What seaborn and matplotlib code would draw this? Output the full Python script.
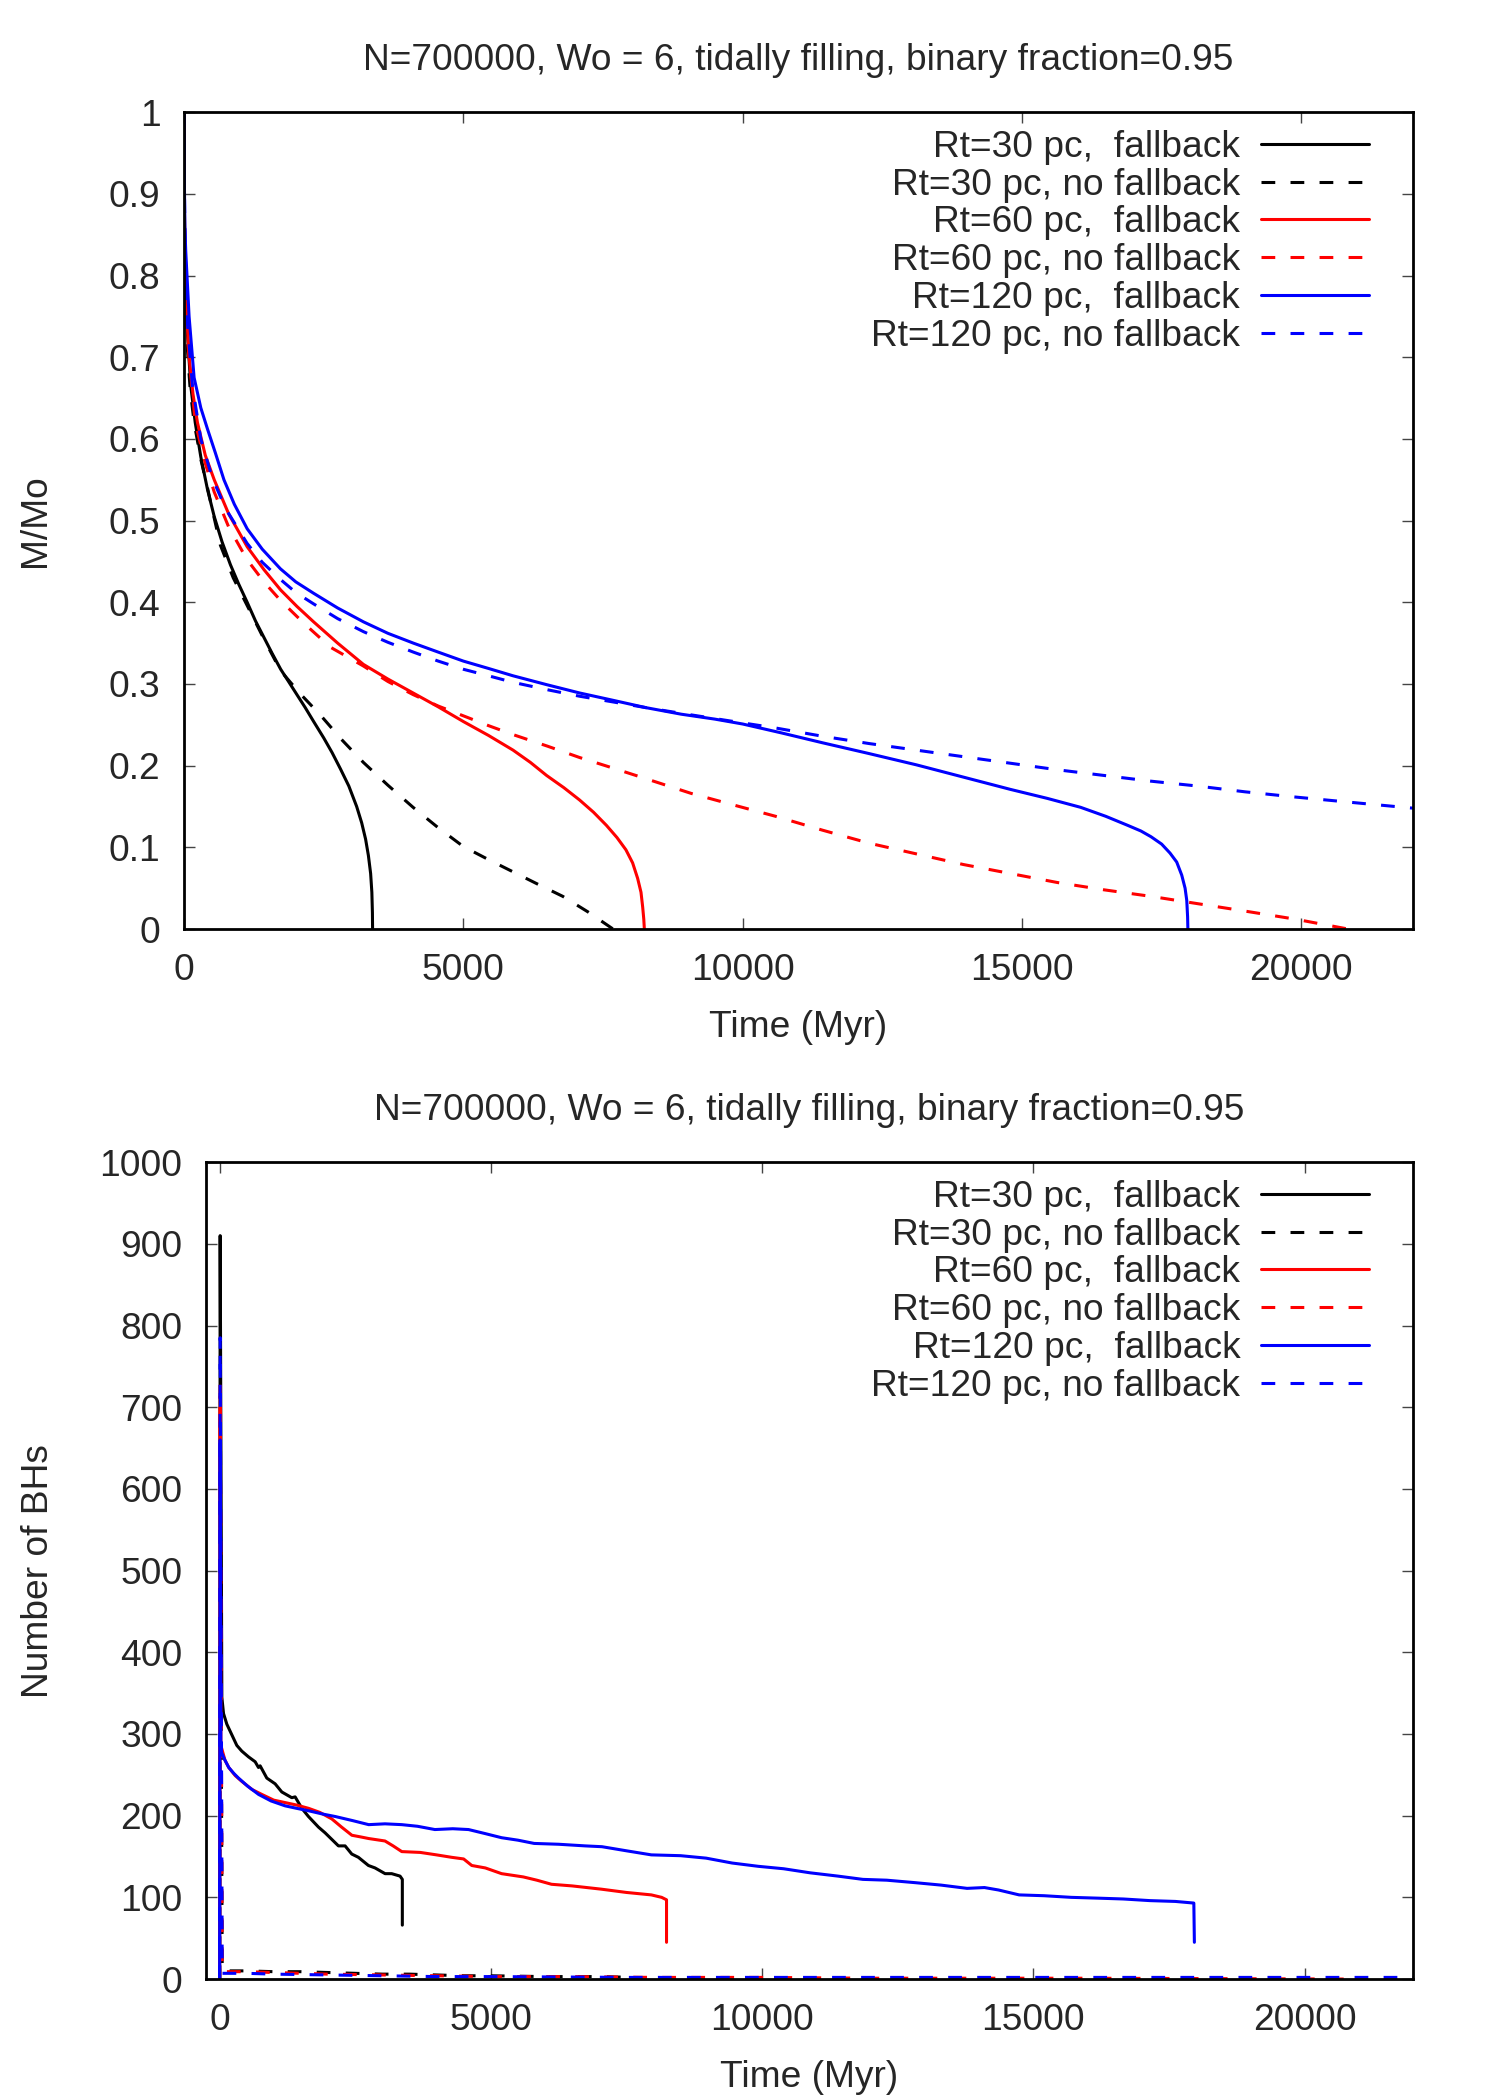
import matplotlib
matplotlib.use("Agg")
import matplotlib.pyplot as plt
from matplotlib.ticker import FuncFormatter, MultipleLocator
import seaborn as sns

title = "N=700000, Wo = 6, tidally filling, binary fraction=0.95"
labels = ["Rt=30 pc,  fallback", "Rt=30 pc, no fallback",
          "Rt=60 pc,  fallback", "Rt=60 pc, no fallback",
          "Rt=120 pc,  fallback", "Rt=120 pc, no fallback"]
colors = ["black", "black", "red", "red", "blue", "blue"]
dashed = [False, True, False, True, False, True]

# ---- top panel: M/Mo vs time (Myr) ----
t_m30f = [0, 5, 15, 50, 120, 200, 300, 420, 540, 680, 830, 980, 1130, 1280, 1430, 1580, 1730, 1880, 2020, 2170,
          2320, 2500, 2650, 2800, 2950, 3090, 3180, 3250, 3300, 3340, 3362, 3372, 3375]
m_m30f = [1.0, 0.9, 0.81, 0.74, 0.665, 0.62, 0.578, 0.538, 0.505, 0.474, 0.446, 0.422, 0.4, 0.377, 0.357, 0.337,
          0.318, 0.302, 0.287, 0.271, 0.254, 0.234, 0.216, 0.196, 0.175, 0.15, 0.13, 0.11, 0.09, 0.068, 0.045, 0.02, 0.0]
t_m30n = [0, 5, 15, 50, 110, 180, 300, 420, 540, 650, 880, 1130, 1430, 1730, 2080, 2440, 2820, 3210, 3650, 4100,
          4550, 5000, 5450, 5890, 6330, 6780, 7230, 7680]
m_m30n = [1.0, 0.9, 0.8, 0.72, 0.66, 0.62, 0.575, 0.54, 0.503, 0.47, 0.43, 0.396, 0.355, 0.316, 0.288, 0.262,
          0.232, 0.204, 0.176, 0.149, 0.124, 0.101, 0.085, 0.07, 0.055, 0.04, 0.021, 0.0]
t_m60f = [0, 5, 15, 50, 90, 160, 240, 380, 540, 800, 1130, 1430, 1730, 2020, 2320, 2750, 3210, 3650, 4100, 4550,
          5000, 5450, 5890, 6200, 6490, 6800, 7080, 7330, 7560, 7750, 7910, 8030, 8120, 8180, 8210, 8230, 8240]
m_m60f = [1.0, 0.9, 0.82, 0.75, 0.70, 0.655, 0.62, 0.58, 0.55, 0.508, 0.468, 0.44, 0.415, 0.395, 0.376, 0.35,
          0.324, 0.306, 0.289, 0.272, 0.254, 0.237, 0.219, 0.204, 0.188, 0.173, 0.158, 0.143, 0.127, 0.112, 0.097,
          0.081, 0.062, 0.045, 0.027, 0.012, 0.0]
t_m60n = [0, 5, 15, 50, 200, 380, 540, 800, 1130, 1430, 1730, 2150, 2620, 3210, 3650, 4100, 4550, 5000, 5450, 5890,
          6500, 7080, 7680, 8270, 9080, 9830, 10590, 11430, 12270, 13110, 13950, 14790, 15630, 16470, 17310, 18150,
          18990, 19900, 20840]
m_m60n = [1.0, 0.9, 0.8, 0.73, 0.62, 0.57, 0.535, 0.492, 0.452, 0.425, 0.402, 0.374, 0.345, 0.322, 0.303, 0.287,
          0.273, 0.261, 0.249, 0.238, 0.224, 0.21, 0.197, 0.184, 0.166, 0.152, 0.138, 0.121, 0.105, 0.092, 0.079,
          0.068, 0.057, 0.048, 0.04, 0.031, 0.022, 0.012, 0.0]
t_m120f = [0, 5, 15, 30, 90, 180, 300, 420, 560, 714, 900, 1130, 1400, 1725, 2000, 2320, 2750, 3213, 3650, 4105,
           4550, 5000, 5450, 5890, 6500, 7080, 7680, 8270, 8900, 9500, 10000, 10700, 11430, 12250, 13110, 13950,
           14790, 15450, 16050, 16500, 16890, 17130, 17310, 17500, 17650, 17770, 17860, 17920, 17950, 17965, 17970]
m_m120f = [1.0, 0.92, 0.86, 0.83, 0.75, 0.675, 0.638, 0.612, 0.583, 0.55, 0.52, 0.49, 0.465, 0.441, 0.425, 0.411,
           0.393, 0.376, 0.362, 0.35, 0.339, 0.328, 0.319, 0.31, 0.299, 0.289, 0.28, 0.271, 0.263, 0.257, 0.251, 0.24,
           0.228, 0.215, 0.201, 0.186, 0.171, 0.16, 0.149, 0.138, 0.127, 0.12, 0.113, 0.104, 0.093, 0.082, 0.066,
           0.05, 0.035, 0.015, 0.0]
t_m120n = [0, 5, 15, 50, 150, 300, 500, 750, 1130, 1400, 1725, 2000, 2320, 2750, 3213, 3650, 4105, 4550, 5000, 5450,
           5890, 6500, 7080, 7680, 8270, 9000, 9750, 10600, 11430, 12270, 13110, 13950, 14790, 15630, 16470, 17310,
           18150, 18990, 19830, 20750, 21680, 22000]
m_m120n = [1.0, 0.92, 0.85, 0.75, 0.665, 0.6, 0.553, 0.514, 0.472, 0.449, 0.428, 0.412, 0.398, 0.38, 0.364, 0.351,
           0.339, 0.328, 0.318, 0.31, 0.302, 0.293, 0.285, 0.278, 0.271, 0.263, 0.255, 0.246, 0.236, 0.227, 0.219,
           0.211, 0.203, 0.195, 0.188, 0.181, 0.175, 0.168, 0.162, 0.156, 0.15, 0.148]

# ---- bottom panel: number of BHs vs time (Myr) ----
t_b30f = [0, 2, 12, 43, 74, 135, 227, 319, 411, 534, 657, 718, 749, 872, 1025, 1148, 1332, 1394, 1517, 1639, 1824,
          1946, 2100, 2192, 2315, 2438, 2560, 2745, 2867, 3052, 3174, 3328, 3370, 3370]
n_b30f = [0, 0, 910, 345, 325, 312, 299, 286, 279, 272, 266, 259, 261, 246, 239, 229, 222, 223, 209, 199, 186,
          179, 169, 163, 163, 153, 149, 139, 136, 129, 129, 126, 122, 66]
t_b30n = [0, 2, 12, 50, 500, 1000, 1500, 2000, 2500, 3000, 3500, 4000, 4500, 5000, 6000, 7000, 7650]
n_b30n = [0, 0, 640, 10, 10, 9, 9, 8, 7, 6, 6, 5, 4, 4, 3, 3, 2]
t_b60f = [0, 2, 12, 25, 100, 170, 290, 410, 600, 780, 1000, 1210, 1420, 1640, 1850, 2070, 2250, 2440, 2600, 2750,
          3050, 3200, 3360, 3700, 4000, 4280, 4500, 4650, 4900, 5200, 5600, 5850, 6120, 6500, 7040, 7500, 7960,
          8150, 8240, 8240]
n_b60f = [0, 0, 700, 286, 268, 259, 249, 242, 232, 226, 219, 216, 213, 209, 204, 196, 186, 176, 174, 172, 169,
          163, 156, 155, 152, 149, 147, 139, 136, 129, 125, 121, 116, 114, 110, 106, 103, 100, 97, 45]
t_b120f = [0, 2, 12, 25, 100, 170, 260, 350, 520, 720, 950, 1210, 1420, 1640, 1900, 2130, 2450, 2750, 3050, 3360,
           3650, 3970, 4300, 4590, 4900, 5200, 5500, 5800, 6250, 6740, 7050, 7500, 7960, 8500, 8970, 9450, 9930,
           10400, 10890, 11400, 11860, 12300, 12820, 13300, 13780, 14100, 14360, 14740, 15200, 15700, 16200, 16660,
           17150, 17620, 17960, 17970]
n_b120f = [0, 0, 660, 279, 268, 259, 252, 246, 236, 226, 218, 212, 209, 206, 202, 199, 194, 189, 190, 189, 187,
           183, 184, 183, 178, 173, 170, 166, 165, 163, 162, 157, 152, 151, 148, 142, 138, 135, 130, 126, 122, 121,
           118, 115, 111, 112, 109, 103, 102, 100, 99, 98, 96, 95, 93, 45]
t_b60n = [0, 2, 12, 50, 500, 1000, 1500, 2000, 3000, 4000, 5000, 6500, 8000, 10000, 12000, 16000, 20800]
n_b60n = [0, 0, 730, 9, 9, 8, 7, 6, 5, 4, 3, 3, 2, 2, 1, 1, 0]
t_b120n = [0, 2, 12, 50, 500, 1000, 2000, 3000, 4000, 5000, 7500, 10000, 15000, 22000]
n_b120n = [0, 0, 785, 7, 7, 6, 5, 4, 3, 3, 2, 2, 2, 2]

top_series = [(t_m30f, m_m30f), (t_m30n, m_m30n), (t_m60f, m_m60f),
              (t_m60n, m_m60n), (t_m120f, m_m120f), (t_m120n, m_m120n)]
bot_series = [(t_b30f, n_b30f), (t_b30n, n_b30n), (t_b60f, n_b60f),
              (t_b60n, n_b60n), (t_b120f, n_b120f), (t_b120n, n_b120n)]

sns.set_theme(style="ticks")
plt.rcParams["font.family"] = ["Liberation Sans", "DejaVu Sans"]
FS = 26.7


def draw_panel(ax, series, ylabel, xlim, ylim, ystep, ylabelpad, leg_x):
    for (t, v), lab, col, dsh in zip(series, labels, colors, dashed):
        ls = (0, (4.5, 5)) if dsh else "solid"
        sns.lineplot(x=t, y=v, ax=ax, color=col, linestyle=ls, linewidth=2.2,
                     estimator=None, sort=False, label=lab)
    ax.set_xlim(*xlim)
    ax.set_ylim(*ylim)
    ax.xaxis.set_major_locator(MultipleLocator(5000))
    ax.yaxis.set_major_locator(MultipleLocator(ystep))
    ax.yaxis.set_major_formatter(FuncFormatter(lambda v, p: "%g" % round(v, 3)))
    ax.tick_params(direction="in", length=8, width=1, color="#444444",
                   top=True, right=True, pad=17, labelsize=FS)
    for sp in ax.spines.values():
        sp.set_linewidth(2.0)
        sp.set_color("black")
    ax.set_title(title, fontsize=FS, pad=30)
    ax.set_xlabel("Time (Myr)", fontsize=FS, labelpad=16)
    ax.set_ylabel(ylabel, fontsize=FS, labelpad=ylabelpad)
    ax.legend(loc="upper right", bbox_to_anchor=(leg_x, 0.992),
              markerfirst=False, frameon=False, fontsize=FS,
              handlelength=2.9, handletextpad=0.57, labelspacing=0.075,
              borderaxespad=0, borderpad=0.3)


fig = plt.figure(figsize=(15, 21), dpi=100)
ax1 = fig.add_axes([0.1227, 0.5576, 0.8193, 0.389])
ax2 = fig.add_axes([0.1373, 0.0576, 0.8047, 0.389])

draw_panel(ax1, top_series, "M/Mo", (0, 22000), (0, 1), 0.1, 40, 0.973)
draw_panel(ax2, bot_series, "Number of BHs", (-250, 22000), (0, 1000), 100, 31, 0.9727)

fig.savefig("out.png", dpi=100, facecolor="white")
